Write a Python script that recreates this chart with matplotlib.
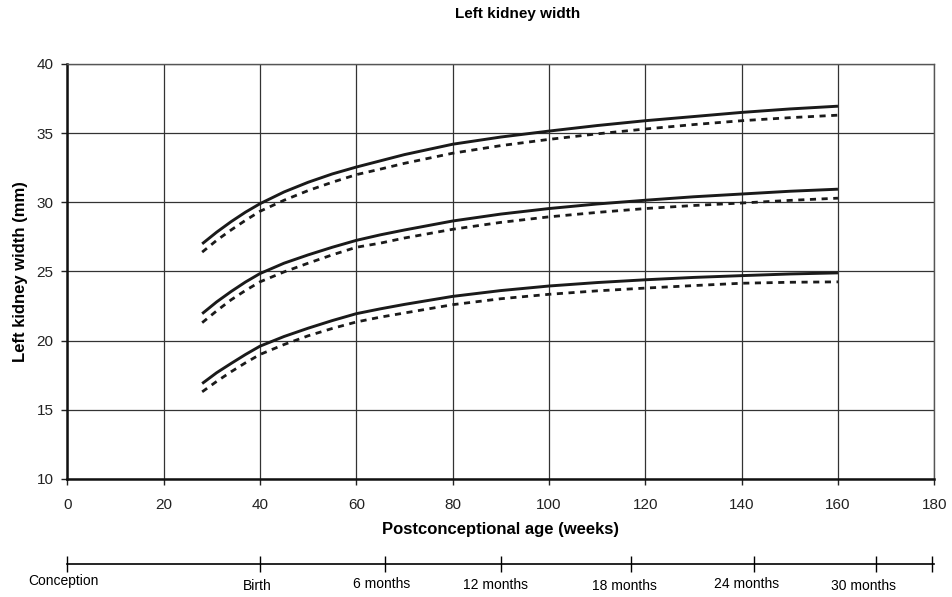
import matplotlib
matplotlib.use('Agg')
from matplotlib import pyplot as plt
from matplotlib import transforms

plt.rcParams['font.family'] = ['Liberation Sans', 'DejaVu Sans']

# postconceptional age in weeks, shared by all curves
age = [28, 31, 34, 37, 40, 45, 50, 55, 60, 65, 70, 80, 90, 100, 110, 120, 130, 140, 150, 160]

# solid curves (upper, middle, lower)
solid_hi = [27.0, 27.84, 28.6, 29.29, 29.9, 30.75, 31.45, 32.05, 32.55, 33.0,
	33.45, 34.2, 34.72, 35.15, 35.55, 35.9, 36.2, 36.5, 36.75, 36.95]
solid_mid = [21.95, 22.8, 23.55, 24.24, 24.85, 25.6, 26.2, 26.75, 27.25, 27.65,
	28.0, 28.65, 29.15, 29.55, 29.88, 30.15, 30.4, 30.6, 30.8, 30.95]
solid_lo = [16.9, 17.68, 18.35, 19.0, 19.6, 20.3, 20.9, 21.45, 21.95, 22.3,
	22.62, 23.2, 23.62, 23.95, 24.2, 24.4, 24.57, 24.7, 24.82, 24.9]

# dashed curves
dash_hi = [26.4, 27.25, 28.0, 28.7, 29.35, 30.15, 30.85, 31.45, 32.0, 32.4,
	32.82, 33.55, 34.1, 34.55, 34.95, 35.3, 35.62, 35.9, 36.12, 36.3]
dash_mid = [21.3, 22.15, 22.95, 23.63, 24.25, 24.97, 25.6, 26.2, 26.75, 27.05,
	27.42, 28.05, 28.55, 28.95, 29.27, 29.55, 29.77, 29.95, 30.14, 30.3]
dash_lo = [16.3, 17.05, 17.75, 18.4, 19.0, 19.72, 20.35, 20.88, 21.35, 21.7,
	22.0, 22.6, 23.03, 23.35, 23.6, 23.8, 23.98, 24.15, 24.22, 24.25]

# age scale underneath
scale_ticks = [0, 40, 66, 90, 117, 142.5, 168, 179.5]
scale_names = ['Conception', 'Birth', '6 months', '12 months', '18 months', '24 months', '30 months']
name_pos = [-0.7, 39.4, 65.3, 88.8, 115.6, 141.0, 165.2]
name_drop = [17, 22, 20, 21, 22, 20, 22]

fig = plt.figure(figsize=(9.52, 5.97), dpi=100)
ax = fig.add_axes([0.0707, 0.1977, 0.9107, 0.6951])

for ys in (solid_hi, solid_mid, solid_lo):
	ax.plot(age, ys, color='#1a1a1a', lw=2.1, solid_capstyle='butt', solid_joinstyle='round')
for ys in (dash_hi, dash_mid, dash_lo):
	ax.plot(age, ys, color='#1a1a1a', lw=2.0, linestyle=(0, (2.2, 2.0)))

ax.set_xlim(0, 180)
ax.set_ylim(10, 40)
ax.set_xticks(range(0, 181, 20))
ax.set_yticks(range(10, 41, 5))
ax.grid(True, color='#333333', lw=0.9)
ax.set_axisbelow(True)
ax.tick_params(direction='out', length=4, width=1, labelsize=11, colors='#222222')
ax.tick_params(axis='x', pad=10)
ax.tick_params(axis='y', pad=6)
for side in ('left', 'bottom'):
	ax.spines[side].set_linewidth(1.8)
	ax.spines[side].set_color('#111111')
for side in ('top', 'right'):
	ax.spines[side].set_linewidth(1.0)
	ax.spines[side].set_color('#555555')

ax.set_xlabel('Postconceptional age (weeks)', fontsize=12, fontweight='bold', labelpad=7)
ax.set_ylabel('Left kidney width (mm)', fontsize=12, fontweight='bold', labelpad=6)
fig.text(0.544, 0.976, 'Left kidney width', ha='center', va='center', fontsize=11, fontweight='bold')

# timeline axis below the plot
tax = fig.add_axes([0.0707, 0.055, 0.9107, 0.001])
tax.set_xlim(0, 180)
tax.set_ylim(0, 1)
for side in ('left', 'right', 'bottom'):
	tax.spines[side].set_visible(False)
tax.spines['top'].set_linewidth(1.2)
tax.set_yticks([])
tax.xaxis.set_ticks_position('top')
tax.set_xticks(scale_ticks)
tax.set_xticklabels([])
tax.tick_params(axis='x', direction='inout', length=12, width=1)
trans = transforms.blended_transform_factory(tax.transData, tax.transAxes)
for nm, xp, dp in zip(scale_names, name_pos, name_drop):
	t = tax.text(xp, 1, nm, ha='center', va='center', fontsize=10,
		family=['Liberation Sans Narrow', 'Liberation Sans', 'DejaVu Sans'],
		transform=trans + transforms.ScaledTranslation(0, -dp / 100, fig.dpi_scale_trans))

fig.savefig('out.png', dpi=100)
